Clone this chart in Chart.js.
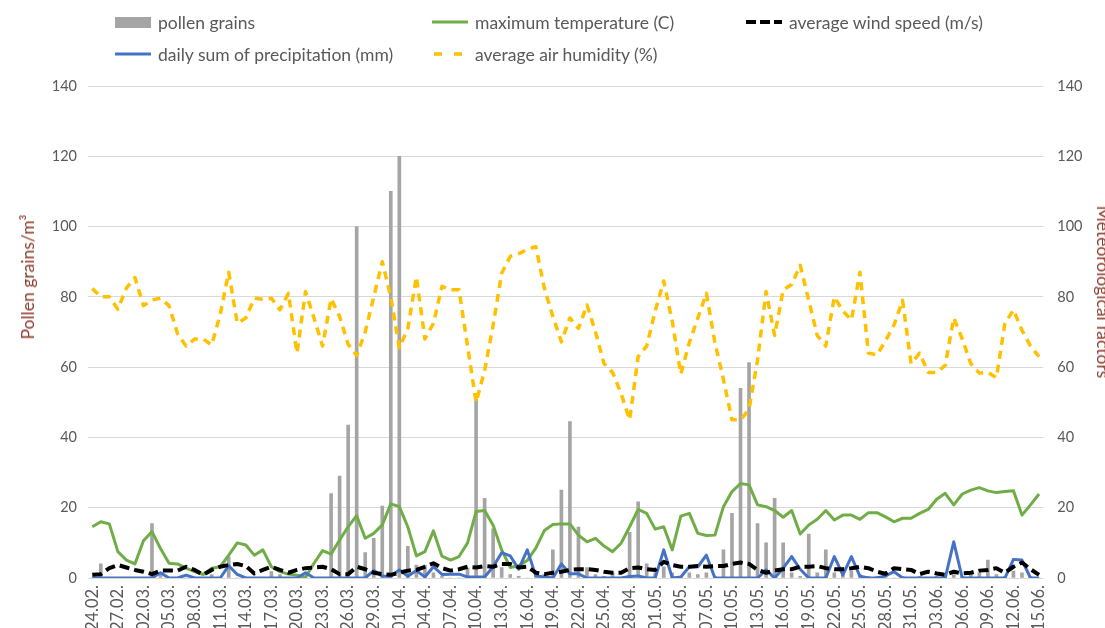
<!DOCTYPE html>
<html>
<head>
<meta charset="utf-8">
<script src="https://cdn.jsdelivr.net/npm/chart.js"></script>
<style>
html, body { margin: 0; padding: 0; background: #fff; overflow: hidden; }
.wrap { position: relative; width: 1105px; height: 628px; overflow: hidden; }
.legend { position: absolute; left: 0; top: 0; font-family: Lato, "Open Sans", sans-serif; font-size: 17.5px; color: #595959; }
.item { position: absolute; display: flex; align-items: center; white-space: nowrap; height: 22px; }
.item .key { width: 36px; margin-right: 7px; display: flex; align-items: center; }
.axis-title { position: absolute; font-family: Lato, "Open Sans", sans-serif; font-size: 17.5px; color: #8a3b2b; white-space: nowrap; line-height: 20px; }
</style>
</head>
<body>
<div class="wrap">
    <canvas id="pollenChart" width="1105" height="628"></canvas>
    <div class="legend">
        <div class="item" style="left:115px; top:11px">
            <span class="key"><span style="display:block;width:36px;height:11px;background:#a5a5a5"></span></span>pollen grains
        </div>
        <div class="item" style="left:432px; top:11px">
            <span class="key"><svg width="36" height="4"><line x1="0" y1="2" x2="36" y2="2" stroke="#70ad47" stroke-width="3"/></svg></span>maximum temperature (C)
        </div>
        <div class="item" style="left:746px; top:11px">
            <span class="key"><svg width="36" height="4"><line x1="0" y1="2" x2="36" y2="2" stroke="#000" stroke-width="4" stroke-dasharray="10 4"/></svg></span>average wind speed (m/s)
        </div>
        <div class="item" style="left:115px; top:43px">
            <span class="key"><svg width="36" height="4"><line x1="0" y1="2" x2="36" y2="2" stroke="#4472c4" stroke-width="3"/></svg></span>daily sum of precipitation (mm)
        </div>
        <div class="item" style="left:432px; top:43px">
            <span class="key"><svg width="36" height="4"><line x1="2" y1="2" x2="36" y2="2" stroke="#ffc000" stroke-width="3.5" stroke-dasharray="8 12"/></svg></span>average air humidity (%)
        </div>
    </div>
    <!-- axis titles, rotated around their own centre -->
    <div class="axis-title" id="titleLeft" style="left:28px; top:277px; transform: translate(-50%, -50%) rotate(-90deg);">Pollen grains/m³</div>
    <div class="axis-title" id="titleRight" style="left:1103px; top:292px; transform: translate(-50%, -50%) rotate(90deg);">Meteorological factors</div>
</div>

<script>
// days of the season, 24 Feb – 15 Jun
const days = [
    '24.02.', '25.02.', '26.02.', '27.02.', '28.02.',
    '01.03.', '02.03.', '03.03.', '04.03.', '05.03.', '06.03.', '07.03.', '08.03.', '09.03.', '10.03.',
    '11.03.', '12.03.', '13.03.', '14.03.', '15.03.', '16.03.', '17.03.', '18.03.', '19.03.', '20.03.',
    '21.03.', '22.03.', '23.03.', '24.03.', '25.03.', '26.03.', '27.03.', '28.03.', '29.03.', '30.03.', '31.03.',
    '01.04.', '02.04.', '03.04.', '04.04.', '05.04.', '06.04.', '07.04.', '08.04.', '09.04.', '10.04.',
    '11.04.', '12.04.', '13.04.', '14.04.', '15.04.', '16.04.', '17.04.', '18.04.', '19.04.', '20.04.',
    '21.04.', '22.04.', '23.04.', '24.04.', '25.04.', '26.04.', '27.04.', '28.04.', '29.04.', '30.04.',
    '01.05.', '02.05.', '03.05.', '04.05.', '05.05.', '06.05.', '07.05.', '08.05.', '09.05.', '10.05.',
    '11.05.', '12.05.', '13.05.', '14.05.', '15.05.', '16.05.', '17.05.', '18.05.', '19.05.', '20.05.',
    '21.05.', '22.05.', '23.05.', '24.05.', '25.05.', '26.05.', '27.05.', '28.05.', '29.05.', '30.05.', '31.05.',
    '01.06.', '02.06.', '03.06.', '04.06.', '05.06.', '06.06.', '07.06.', '08.06.', '09.06.', '10.06.',
    '11.06.', '12.06.', '13.06.', '14.06.', '15.06.'
];

// pollen grains/m3
const pollen = [
    0, 4, 0, 0, 0, 0, 0, 15.5, 1.4, 0,
    0, 0, 0, 0, 1, 0, 6, 0, 0, 0,
    0, 1.8, 1, 0, 0, 0.5, 0, 0, 24, 29,
    43.5, 100, 7.2, 11.3, 20.5, 110, 120, 9, 3.7, 3.7,
    1.5, 0.5, 0, 0, 2.8, 51, 22.7, 14, 3, 1,
    0.5, 0, 0.5, 1, 8, 25, 44.5, 14.5, 3, 1,
    0.5, 1.5, 0, 13, 21.7, 4, 1.5, 3.2, 1.5, 0.5,
    1.5, 1, 1.5, 0.5, 8, 18.4, 54, 61.3, 15.5, 10,
    22.7, 10, 1.5, 0.5, 12.5, 1.5, 8, 1.5, 1, 2,
    1, 0.5, 0.5, 0.5, 0, 0.5, 0, 0.5, 0, 0.5,
    0.5, 1, 0.5, 1, 1.5, 5.1, 1, 0.5, 2, 1.5,
    0.5, 0
];

// maximum temperature (C)
const maxTemp = [
    14.6, 16.0, 15.4, 7.5, 5.1, 4.0, 10.6, 13.2, 8.4, 4.2,
    4.0, 2.8, 1.8, 1.0, 2.8, 3.2, 6.5, 10.0, 9.4, 6.5,
    8.0, 3.2, 1.8, 1.1, 0.8, 0.2, 4.2, 7.8, 6.8, 10.8,
    14.6, 17.7, 11.3, 12.7, 15.1, 21.1, 20.3, 14.5, 6.3, 7.5,
    13.4, 6.2, 5.1, 6.1, 10.0, 18.9, 19.2, 15.0, 8.0, 3.0,
    3.5, 5.0, 8.5, 13.5, 15.2, 15.4, 15.4, 12.2, 10.3, 11.3,
    9.1, 7.5, 9.9, 14.6, 19.5, 18.4, 13.9, 14.6, 8.0, 17.6,
    18.4, 12.7, 12.1, 12.2, 20.3, 24.6, 26.9, 26.5, 20.8, 20.3,
    19.2, 17.3, 19.2, 12.5, 15.1, 16.7, 19.2, 16.5, 17.9, 17.9,
    16.7, 18.6, 18.6, 17.4, 16.0, 17.0, 17.0, 18.4, 19.5, 22.4,
    24.1, 20.8, 23.9, 25.0, 25.7, 24.8, 24.3, 24.6, 24.8, 17.9,
    20.8, 23.9
];

// average wind speed (m/s)
const windSpeed = [
    0.9, 1.1, 2.8, 3.7, 3.0, 2.3, 1.8, 1.1, 2.1, 2.1,
    2.1, 3.2, 2.3, 0.9, 2.3, 3.2, 3.7, 4.0, 3.4, 1.3,
    2.3, 3.2, 2.3, 1.5, 2.3, 2.8, 3.0, 3.2, 2.5, 1.1,
    1.1, 3.2, 2.5, 1.5, 1.1, 0.9, 1.5, 2.1, 2.3, 3.2,
    4.2, 2.8, 2.1, 2.5, 3.2, 3.0, 3.4, 3.2, 4.0, 4.0,
    3.0, 3.2, 1.5, 1.1, 1.5, 1.8, 2.3, 2.5, 2.5, 2.3,
    1.8, 1.5, 1.5, 2.8, 3.0, 2.5, 2.3, 4.6, 3.7, 3.2,
    3.2, 3.4, 3.2, 3.4, 3.4, 4.0, 4.4, 4.0, 2.3, 1.5,
    2.1, 2.5, 2.5, 3.2, 3.2, 3.4, 2.8, 2.5, 2.5, 2.8,
    3.2, 2.8, 1.8, 1.2, 2.8, 2.5, 2.3, 1.1, 1.8, 1.3,
    0.9, 1.8, 1.3, 1.5, 2.1, 2.3, 2.8, 1.5, 3.2, 4.4,
    2.5, 0.9
];

// daily sum of precipitation (mm)
const precipitation = [
    0, 0, 0, 0, 0, 0, 0, 0, 1.5, 0,
    0, 0.8, 0, 0, 0, 0, 3.5, 1.0, 0, 0,
    0, 0, 0, 0, 0, 1.5, 0, 0, 0, 0,
    0, 0, 0, 2.1, 0.5, 0.5, 2.3, 0.5, 2.1, 0.3,
    3.2, 1.0, 1.1, 1.1, 0.3, 0.3, 0.3, 3.2, 7.2, 6.3,
    2.5, 8.0, 0.6, 0.3, 0, 4.0, 1.2, 1.2, 0, 0,
    0, 0, 0, 0.4, 0.6, 0, 0, 8.0, 0, 0.3,
    3.2, 3.2, 6.5, 0, 0, 0, 0, 0, 0, 2.3,
    0, 2.8, 6.1, 2.5, 0, 0, 0, 6.1, 0.9, 6.1,
    0.5, 0, 0, 0.6, 1.8, 0, 0, 0, 0, 0,
    0, 10.3, 0, 0, 0, 0, 0, 0, 5.3, 5.1,
    0, 0
];

// average air humidity (%)
const humidity = [
    82.4, 80, 80, 76.5, 82.5, 85.5, 77.5, 79.1, 79.6, 77.5,
    69.5, 66, 68, 68, 66.3, 75, 87, 72.5, 74, 79.6,
    79.3, 79.6, 76.3, 81, 64, 81.5, 74, 66, 79.5, 74.4,
    66.5, 63.3, 70, 80, 90, 80, 65.5, 71, 85.7, 68,
    72.5, 83, 82, 82, 66, 50, 59, 72, 86.7, 91.5,
    92.3, 93.5, 94.3, 82.5, 74.4, 67.2, 74, 71, 77.7, 70,
    61, 58.5, 52.5, 45, 63, 66, 76, 84.5, 73, 58,
    67, 74, 81, 67, 56.5, 45, 45, 48, 62, 81.5,
    69, 82, 83.5, 89, 79, 69, 66, 80, 76, 73.4,
    87, 64, 63.5, 67.5, 72, 79, 61, 64, 58.5, 58.5,
    60.5, 74, 68, 61, 58.3, 58.5, 57, 72.5, 76.3, 70.5,
    66, 63
];

const axisTicks = [0, 20, 40, 60, 80, 100, 120, 140];

const textGray = '#595959';
const fontFamily = 'Lato, "Open Sans", sans-serif';

Chart.defaults.font.family = fontFamily;
Chart.defaults.color = textGray;

const lineStyle = {
    type: 'line',
    yAxisID: 'y1',
    pointRadius: 0,
    pointHoverRadius: 0,
    tension: 0,
    fill: false,
    borderJoinStyle: 'round'
};

new Chart(document.getElementById('pollenChart'), {
    data: {
        labels: days,
        datasets: [
            Object.assign({}, lineStyle, {
                label: 'average air humidity (%)',
                data: humidity,
                borderColor: '#ffc000',
                borderWidth: 3.5,
                borderDash: [8, 6],
                order: 1
            }),
            Object.assign({}, lineStyle, {
                label: 'average wind speed (m/s)',
                data: windSpeed,
                borderColor: '#000000',
                borderWidth: 4,
                borderDash: [10, 5],
                order: 2
            }),
            Object.assign({}, lineStyle, {
                label: 'daily sum of precipitation (mm)',
                data: precipitation,
                borderColor: '#4472c4',
                borderWidth: 3,
                order: 3
            }),
            Object.assign({}, lineStyle, {
                label: 'maximum temperature (C)',
                data: maxTemp,
                borderColor: '#70ad47',
                borderWidth: 3,
                order: 4
            }),
            {
                type: 'bar',
                label: 'pollen grains',
                data: pollen,
                yAxisID: 'y',
                backgroundColor: '#a5a5a5',
                barThickness: 3,
                order: 10
            }
        ]
    },
    options: {
        responsive: false,
        animation: false,
        layout: { padding: { top: 86, left: 0, right: 0, bottom: 0 } },
        plugins: {
            legend: { display: false },
            tooltip: { enabled: false }
        },
        scales: {
            x: {
                offset: true,
                grid: { display: false, drawTicks: false },
                border: { display: false },
                ticks: {
                    autoSkip: false,
                    minRotation: 90,
                    maxRotation: 90,
                    padding: 7,
                    color: textGray,
                    font: { size: 16.5 },
                    callback: (v, i) => (i % 3 === 0 ? days[i] : '')
                },
                afterFit: s => { s.height = 50; }
            },
            y: {
                position: 'left',
                min: 0,
                max: 140,
                afterBuildTicks: s => { s.ticks = axisTicks.map(v => ({ value: v })); },
                ticks: { padding: 11, color: textGray, font: { size: 14.5 } },
                grid: { color: '#d9d9d9', lineWidth: 1, drawTicks: false },
                border: { display: false },
                afterFit: s => { s.width = 88; }
            },
            y1: {
                position: 'right',
                min: 0,
                max: 140,
                afterBuildTicks: s => { s.ticks = axisTicks.map(v => ({ value: v })); },
                ticks: { padding: 14, color: textGray, font: { size: 14.5 } },
                grid: { display: false, drawTicks: false },
                border: { display: false },
                afterFit: s => { s.width = 61.7; }
            }
        }
    }
});
</script>
</body>
</html>
